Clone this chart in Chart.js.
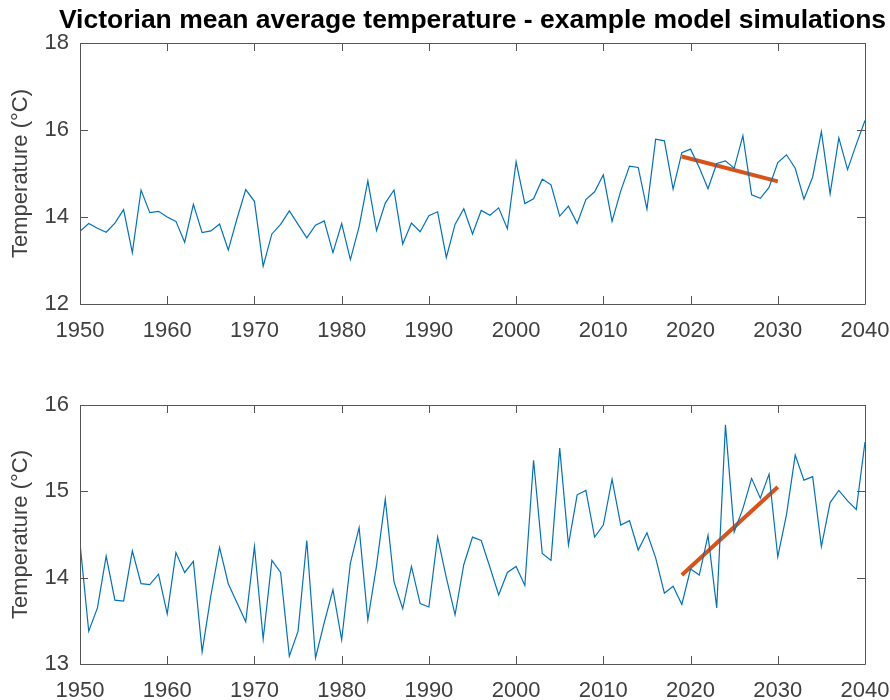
<!DOCTYPE html>
<html>
<head>
<meta charset="utf-8">
<script src="https://cdn.jsdelivr.net/npm/chart.js@4.4.1/dist/chart.umd.min.js"></script>
<style>
    body { margin: 0; background: #fff; }
    .panel { position: absolute; left: 0; width: 890px; height: 350px; }
    #chart-title {
        position: absolute; left: 0; top: 4px; width: 945px;
        text-align: center; white-space: nowrap;
        font: bold 26.5px "Liberation Sans", Arial, Helvetica, sans-serif;
        color: #000;
    }
</style>
</head>
<body>
<div class="panel" style="top: 0;"><canvas id="topChart"></canvas></div>
<div class="panel" style="top: 350px;"><canvas id="bottomChart"></canvas></div>
<div id="chart-title">Victorian mean average temperature - example model simulations</div>
<script>
const startYear = 1950;

// model run 1, 1950-2040
const tempsTop = [
    13.67, 13.85, 13.74, 13.65, 13.86, 14.17, 13.18, 14.62, 14.10, 14.13,
    14.00, 13.90, 13.42, 14.29, 13.64, 13.68, 13.84, 13.24, 13.96, 14.63,
    14.36, 12.87, 13.61, 13.83, 14.14, 13.83, 13.52, 13.81, 13.91, 13.18,
    13.85, 13.02, 13.78, 14.83, 13.69, 14.32, 14.62, 13.38, 13.86, 13.66,
    14.03, 14.12, 13.07, 13.83, 14.19, 13.61, 14.15, 14.04, 14.21, 13.73,
    15.27, 14.31, 14.42, 14.87, 14.74, 14.02, 14.25, 13.85, 14.40, 14.58,
    14.97, 13.90, 14.60, 15.17, 15.14, 14.18, 15.79, 15.75, 14.64, 15.48,
    15.56, 15.14, 14.65, 15.23, 15.29, 15.12, 15.87, 14.51, 14.43, 14.68,
    15.25, 15.43, 15.12, 14.41, 14.92, 15.96, 14.53, 15.82, 15.09, 15.67,
    16.22
];

// model run 2, 1950-2040
const tempsBottom = [
    14.40, 13.38, 13.65, 14.25, 13.74, 13.73, 14.31, 13.93, 13.92, 14.04,
    13.58, 14.29, 14.06, 14.19, 13.14, 13.79, 14.35, 13.93, 13.71, 13.49,
    14.36, 13.29, 14.20, 14.06, 13.09, 13.38, 14.43, 13.07, 13.48, 13.86,
    13.28, 14.17, 14.58, 13.51, 14.14, 14.91, 13.95, 13.64, 14.13, 13.70,
    13.66, 14.47, 14.00, 13.57, 14.15, 14.47, 14.43, 14.12, 13.80, 14.06,
    14.13, 13.91, 15.36, 14.28, 14.20, 15.50, 14.38, 14.96, 15.01, 14.47,
    14.61, 15.14, 14.61, 14.66, 14.32, 14.52, 14.23, 13.82, 13.90, 13.69,
    14.10, 14.03, 14.49, 13.65, 15.77, 14.53, 14.80, 15.15, 14.92, 15.20,
    14.24, 14.73, 15.42, 15.13, 15.17, 14.36, 14.87, 15.01, 14.89, 14.79,
    15.57
];

const trendYears = [2019, 2030];
const trendTop = [15.39, 14.82];
const trendBottom = [14.03, 15.05];

const xTicks = [1950, 1960, 1970, 1980, 1990, 2000, 2010, 2020, 2030, 2040];
const yTicksTop = [12, 14, 16, 18];
const yTicksBottom = [13, 14, 15, 16];

const FONT = 'Liberation Sans, Arial, Helvetica, sans-serif';
const AXIS_COLOR = '#404040';

function toPoints(xs, ys) {
    return ys.map(function(v, i) { return { x: xs[i], y: v }; });
}

const years = tempsTop.map(function(v, i) { return startYear + i; });

// MATLAB style box with inward ticks on all four sides
const boxTicks = {
    id: 'boxTicks',
    afterDraw(chart) {
        const ctx = chart.ctx;
        const area = chart.chartArea;
        const xs = chart.scales.x;
        const ys = chart.scales.y;
        const len = 8;

        ctx.save();
        ctx.strokeStyle = '#555555';
        ctx.lineWidth = 1;
        ctx.beginPath();
        ctx.rect(Math.round(area.left) + 0.5, Math.round(area.top) + 0.5,
                 Math.round(area.right - area.left), Math.round(area.bottom - area.top));

        xs.ticks.forEach(function(t) {
            const px = Math.round(xs.getPixelForValue(t.value)) + 0.5;
            ctx.moveTo(px, area.bottom);
            ctx.lineTo(px, area.bottom - len);
            ctx.moveTo(px, area.top);
            ctx.lineTo(px, area.top + len);
        });
        ys.ticks.forEach(function(t) {
            const py = Math.round(ys.getPixelForValue(t.value)) + 0.5;
            ctx.moveTo(area.left, py);
            ctx.lineTo(area.left + len, py);
            ctx.moveTo(area.right, py);
            ctx.lineTo(area.right - len, py);
        });
        ctx.stroke();
        ctx.restore();
    }
};

function makeChart(canvasId, temps, trend, yTicks, opts) {
    return new Chart(document.getElementById(canvasId), {
        type: 'line',
        data: {
            datasets: [{
                label: 'simulation',
                data: toPoints(years, temps),
                borderColor: '#0072BD',
                borderWidth: 1.2,
                pointRadius: 0,
                tension: 0
            }, {
                label: 'trend',
                data: toPoints(trendYears, trend),
                borderColor: '#D95319',
                borderWidth: 4,
                borderCapStyle: 'butt',
                pointRadius: 0,
                tension: 0
            }]
        },
        options: {
            responsive: true,
            maintainAspectRatio: false,
            animation: false,
            events: [],
            layout: {
                padding: { top: opts.padTop, right: 25, left: 0, bottom: 0 }
            },
            plugins: {
                legend: { display: false },
                tooltip: { enabled: false },
                title: { display: false }
            },
            scales: {
                x: {
                    type: 'linear',
                    min: 1950,
                    max: 2040,
                    afterBuildTicks: function(scale) {
                        scale.ticks = xTicks.map(function(v) { return { value: v }; });
                    },
                    afterFit: function(scale) {
                        scale.height = opts.xHeight;
                        scale.paddingLeft = 0;
                        scale.paddingRight = 0;
                    },
                    grid: { display: false, drawTicks: false },
                    border: { display: false },
                    ticks: {
                        color: AXIS_COLOR,
                        padding: 14,
                        maxRotation: 0,
                        autoSkip: false,
                        font: { family: FONT, size: 22 },
                        callback: function(v) { return String(v); }
                    }
                },
                y: {
                    min: yTicks[0],
                    max: yTicks[yTicks.length - 1],
                    afterBuildTicks: function(scale) {
                        scale.ticks = yTicks.map(function(v) { return { value: v }; });
                    },
                    afterFit: function(scale) {
                        scale.width = 80;
                        scale.paddingTop = 0;
                        scale.paddingBottom = 0;
                    },
                    grid: { display: false, drawTicks: false },
                    border: { display: false },
                    title: {
                        display: true,
                        text: 'Temperature (°C)',
                        color: AXIS_COLOR,
                        font: { family: FONT, size: 22 },
                        padding: { top: 8, bottom: 0 }
                    },
                    ticks: {
                        color: AXIS_COLOR,
                        padding: 11,
                        autoSkip: false,
                        font: { family: FONT, size: 22 },
                        callback: function(v) { return String(v); }
                    }
                }
            }
        },
        plugins: [boxTicks]
    });
}

makeChart('topChart', tempsTop, trendTop, yTicksTop, {
    padTop: 43,
    xHeight: 46
});

makeChart('bottomChart', tempsBottom, trendBottom, yTicksBottom, {
    padTop: 55,
    xHeight: 36
});
</script>
</body>
</html>
